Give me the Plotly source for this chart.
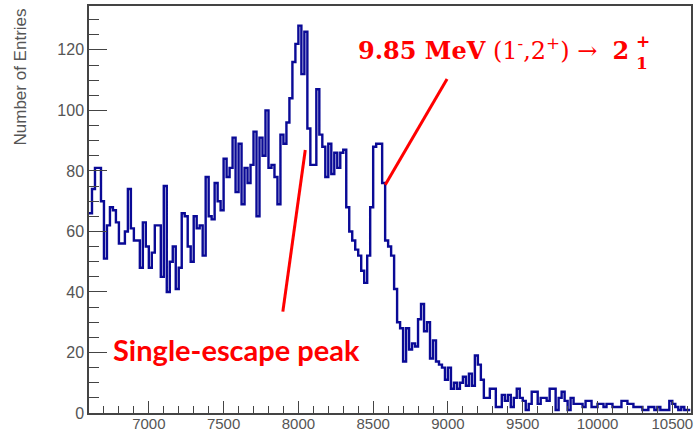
import numpy as np
import plotly.graph_objects as go

# Histogram: 20 keV bins starting at 6600
bin_start = 6600
bin_width = 20
counts = [
    66, 74, 81, 81, 70, 51, 62, 68, 67, 63,
    56, 56, 60, 74, 61, 57, 57, 48, 63, 55,
    48, 53, 62, 62, 45, 75, 40, 50, 55, 41,
    48, 66, 65, 55, 50, 65, 61, 62, 52, 78,
    65, 64, 76, 70, 67, 84, 78, 81, 91, 73,
    89, 69, 81, 76, 82, 93, 65, 91, 85, 100,
    81, 82, 78, 69, 92, 89, 96, 104, 116, 122,
    128, 112, 126, 94, 82, 82, 107, 92, 88, 78,
    89, 79, 86, 81, 86, 87, 68, 60, 57, 54,
    52, 47, 43, 52, 68, 88, 89, 89, 76, 57,
    55, 52, 41, 30, 28, 17, 28, 21, 23, 22,
    31, 36, 27, 30, 18, 24, 17, 16, 15, 11,
    15, 8, 10, 8, 10, 12, 9, 13, 9, 19,
    16, 11, 5, 5, 8, 8, 2, 2, 6, 4,
    6, 2, 5, 8, 5, 4, 1, 3, 7, 7,
    3, 5, 5, 4, 8, 8, 1, 5, 7, 4,
    1, 5, 3, 3, 3, 2, 4, 4, 2, 2,
    3, 3, 2, 3, 3, 2, 2, 2, 4, 4,
    3, 3, 2, 2, 2, 1, 1, 2, 2, 1,
    2, 1, 1, 1, 4, 3, 2, 1, 2, 1,
    1,
]
x_range = [6600, 10625]
y_range = [0, 134.5]
x_ticks = [7000, 7500, 8000, 8500, 9000, 9500, 10000, 10500]
x_tick_text = ["7000", "7500", "8000", "8500", "9000", "9500", "10000", "10500"]
y_ticks = [0, 20, 40, 60, 80, 100, 120]
y_tick_text = ["0", "20", "40", "60", "80", "100", "120"]
y_title = "Number of Entries"
peak_label = "Single-escape peak"
peak_line = [(8046, 86.9), (7896, 33.5)]
transition_line = [(8581, 75.4), (8994, 110.4)]

edges = bin_start + bin_width * np.arange(len(counts) + 1)
ys = list(counts) + [counts[-1]]

fig = go.Figure()
fig.add_trace(go.Scatter(
    x=edges, y=ys, mode="lines", line_shape="hv",
    line=dict(color="#0a0a96", width=2.4), showlegend=False,
))

red = "#ff0000"
for (p0, p1) in [peak_line, transition_line]:
    fig.add_shape(type="line", xref="x", yref="y",
                  x0=p0[0], y0=p0[1], x1=p1[0], y1=p1[1],
                  line=dict(color=red, width=3))

fig.add_annotation(
    x=6750, y=21.0, xref="x", yref="y", xanchor="left", yanchor="middle",
    text="<b>" + peak_label + "</b>", showarrow=False,
    font=dict(family="Lato", size=29, color=red),
)
fig.add_annotation(
    x=8387, y=120.3, xref="x", yref="y", xanchor="left", yanchor="middle",
    text="<b>9.85 MeV</b> (1<sup>-</sup>,2<sup>+</sup>)\u00a0\u2192\u00a0\u00a0<b>2</b>",
    showarrow=False,
    font=dict(family="DejaVu Serif", size=24, color=red),
)
fig.add_annotation(
    x=10245, y=122.8, xref="x", yref="y", xanchor="left", yanchor="middle",
    text="<b>+</b>", showarrow=False,
    font=dict(family="DejaVu Serif", size=17, color=red),
)
fig.add_annotation(
    x=10245, y=115.8, xref="x", yref="y", xanchor="left", yanchor="middle",
    text="<b>1</b>", showarrow=False,
    font=dict(family="DejaVu Serif", size=17, color=red),
)
fig.add_annotation(
    x=-0.113, y=1.0, xref="paper", yref="paper", xanchor="center", yanchor="top",
    text=y_title, textangle=-90, showarrow=False,
    font=dict(family="Liberation Sans", size=17, color="#555555"),
)

axis_common = dict(
    showgrid=False, zeroline=False, showline=True, mirror=True, automargin=False,
    linecolor="#444444", linewidth=1.5, ticks="inside", tickcolor="#444444",
    tickwidth=1.3,
)
fig.update_xaxes(range=x_range, tickvals=x_ticks, ticktext=x_tick_text, ticklen=12,
                 ticklabelstandoff=-4,
                 tickfont=dict(family="Liberation Sans", size=15, color="#555555"),
                 minor=dict(dtick=100, ticklen=7, ticks="inside", tickcolor="#444444", tickwidth=1.1),
                 **axis_common)
fig.update_yaxes(range=y_range, tickvals=y_ticks, ticktext=y_tick_text, ticklen=18,
                 tickfont=dict(family="Liberation Sans", size=16, color="#555555"),
                 minor=dict(dtick=5, ticklen=10, ticks="inside", tickcolor="#444444", tickwidth=1.1),
                 **axis_common)
fig.update_layout(
    width=695, height=433, margin=dict(l=89, r=4, t=6, b=20),
    paper_bgcolor="white", plot_bgcolor="white",
)
fig.write_html("out.html")
